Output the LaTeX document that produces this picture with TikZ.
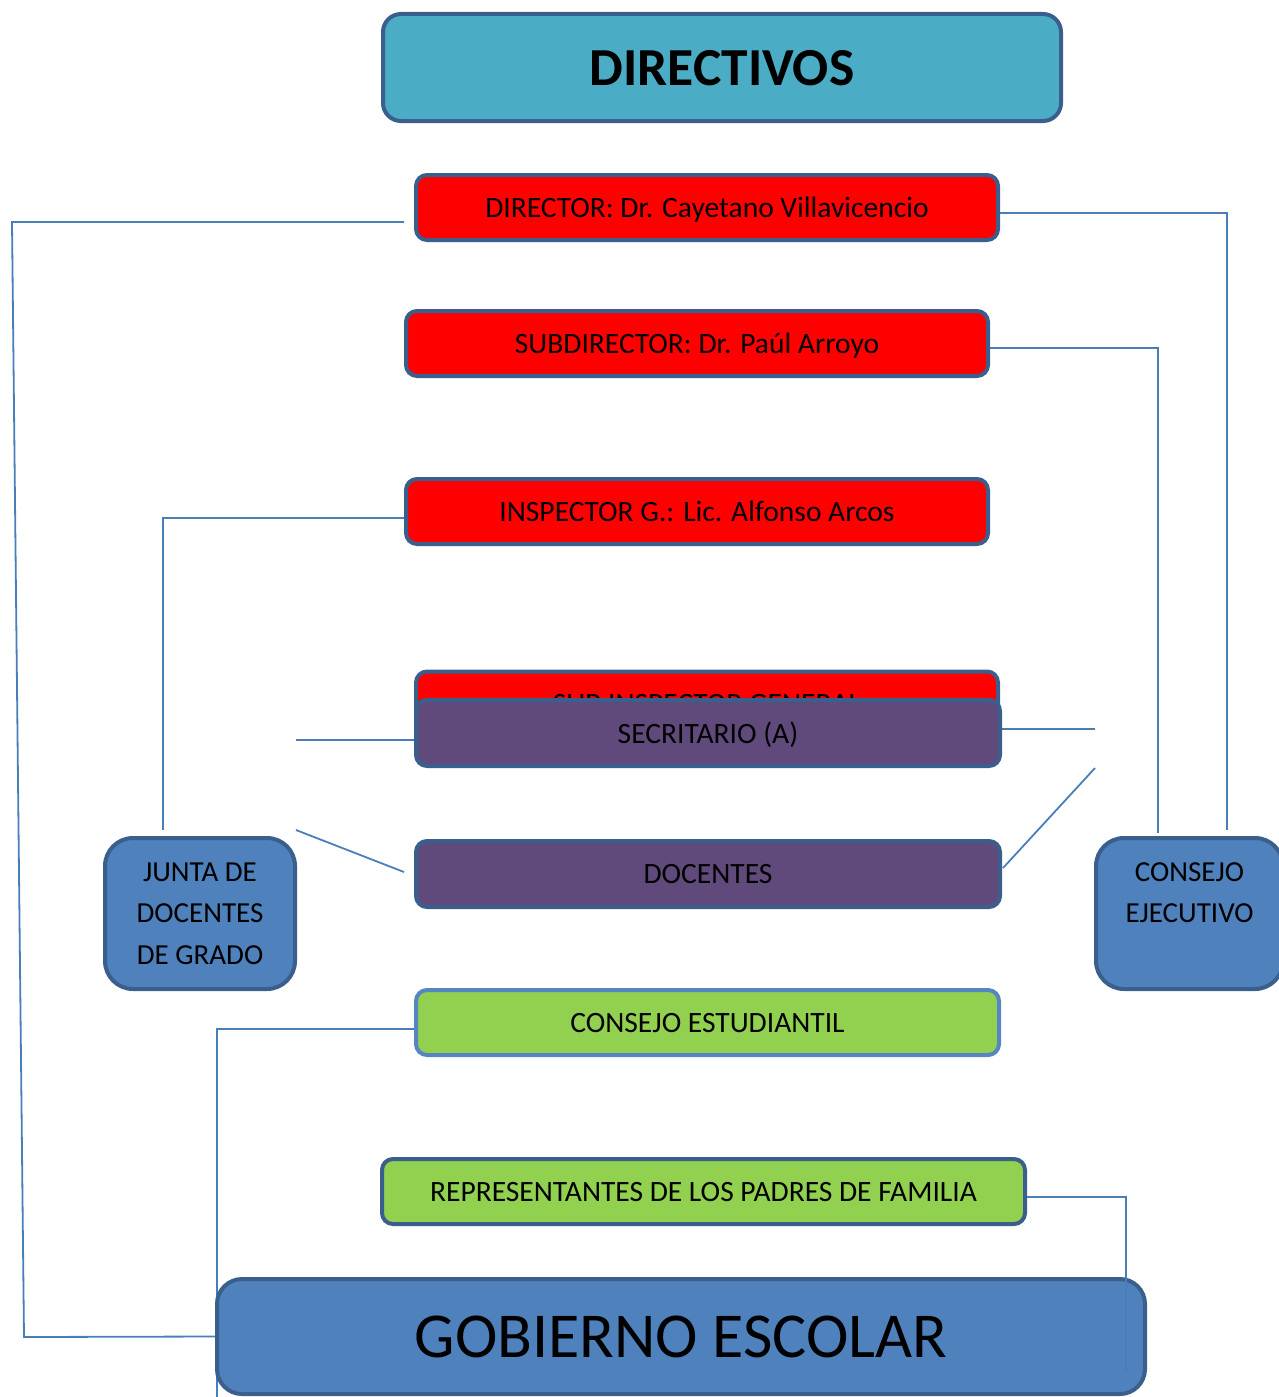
\documentclass[tikz,border=0pt]{standalone}
\usepackage{fontspec}
\setmainfont{Carlito}
\usetikzlibrary{backgrounds}
\definecolor{frameblue}{HTML}{3A5F8C}
\definecolor{headfill}{HTML}{4BACC6}
\definecolor{redfill}{HTML}{FF0000}
\definecolor{purplefill}{HTML}{604A7B}
\definecolor{bluefill}{HTML}{4F81BD}
\definecolor{greenfill}{HTML}{92D050}
\definecolor{lightframe}{HTML}{5585C2}
\definecolor{linkblue}{HTML}{4A7EBB}
\tikzset{
  box/.style={rectangle, draw=frameblue, line width=4pt, rounded corners=11pt,
    inner sep=0pt, align=center, text=black, text depth=0pt,
    font=\fontsize{29.5}{41}\selectfont},
  wide/.style={box, minimum width=582pt, minimum height=65pt},
  redbox/.style={wide, fill=redfill},
  purplebox/.style={wide, fill=purplefill, minimum width=584pt, minimum height=66pt},
  greenbox/.style={wide, fill=greenfill},
  sidebox/.style={box, fill=bluefill, rounded corners=28pt,
    minimum height=151pt, font=\fontsize{29}{41.5}\selectfont},
  conn/.style={draw=linkblue, line width=1.8pt}
}
\begin{document}
\begin{tikzpicture}[x=1pt,y=-1pt]
\useasboundingbox (0,0) rectangle (1279,1397);

% heading
\node[box, fill=headfill, rounded corners=18pt, minimum width=678pt,
  minimum height=107pt, font=\fontsize{53.5}{60}\selectfont\bfseries]
  (head) at (722,67.5) {DIRECTIVOS};

% staff boxes
\node[redbox] (dir)  at (707,207.5) {DIRECTOR: Dr. Cayetano Villavicencio};
\node[redbox] (sub)  at (697,343.5) {SUBDIRECTOR: Dr. Paúl Arroyo};
\node[redbox] (insp) at (697,511.5) {INSPECTOR G.: Lic. Alfonso Arcos};
\node[redbox] (subinsp) at (707,704) {SUB INSPECTOR GENERAL};
\node[purplebox] (sec) at (708,733) {SECRITARIO (A)};
\node[purplebox] (doc) at (708,874) {DOCENTES};

% side boards
\node[sidebox, minimum width=190pt] (junta) at (200,913.5)
  {JUNTA DE\\DOCENTES\\DE GRADO};
\node[sidebox, minimum width=187pt] (ce) at (1189.5,913.5)
  {CONSEJO\\EJECUTIVO\\~};

% student and parent bodies
\node[greenbox, draw=lightframe, minimum width=583pt] (cest) at (707.5,1022.5)
  {CONSEJO ESTUDIANTIL};
\node[greenbox, minimum width=643pt] (rep) at (703.5,1191.5)
  {REPRESENTANTES DE LOS PADRES DE FAMILIA};

% school government
\node[box, fill=bluefill, rounded corners=25pt, minimum width=928pt,
  minimum height=115pt, font=\fontsize{64}{70}\selectfont]
  (gob) at (681,1336.5) {GOBIERNO ESCOLAR};

% free ends of the connectors
\coordinate (dirL) at (404,222);
\coordinate (dirR) at (1000,213);
\coordinate (subR) at (990,348);
\coordinate (inspL) at (404,518);
\coordinate (juntaTop) at (163,830);
\coordinate (ceTopA) at (1227,830);
\coordinate (ceTopB) at (1158,833);
\coordinate (secL) at (296,740);
\coordinate (secR) at (1095,729);
\coordinate (docL) at (296,830);
\coordinate (docLend) at (404,872);
\coordinate (docR) at (1003,868);
\coordinate (docRend) at (1095,768);
\coordinate (cestL) at (414,1029);
\coordinate (cestEnd) at (217,1397);
\coordinate (repR) at (1027,1197);
\coordinate (repEnd) at (1126,1372);

\begin{scope}[on background layer]
  \draw[conn] (dirL) -- (12,222) -- (24,1337) -- (gob.west);
  \draw[conn] (dirR) -- (ceTopA |- dirR) -- (ceTopA);
  \draw[conn] (subR) -- (ceTopB |- subR) -- (ceTopB);
  \draw[conn] (inspL) -- (juntaTop |- inspL) -- (juntaTop);
  \draw[conn] (secL) -- (sec.west |- secL);
  \draw[conn] (sec.east |- secR) -- (secR);
  \draw[conn] (docL) -- (docLend);
  \draw[conn] (docR) -- (docRend);
  \draw[conn] (cestL) -- (cestEnd |- cestL) -- (cestEnd);
\end{scope}
\draw[conn] (repR) -- (repEnd |- repR) -- (repEnd);
\end{tikzpicture}
\end{document}
